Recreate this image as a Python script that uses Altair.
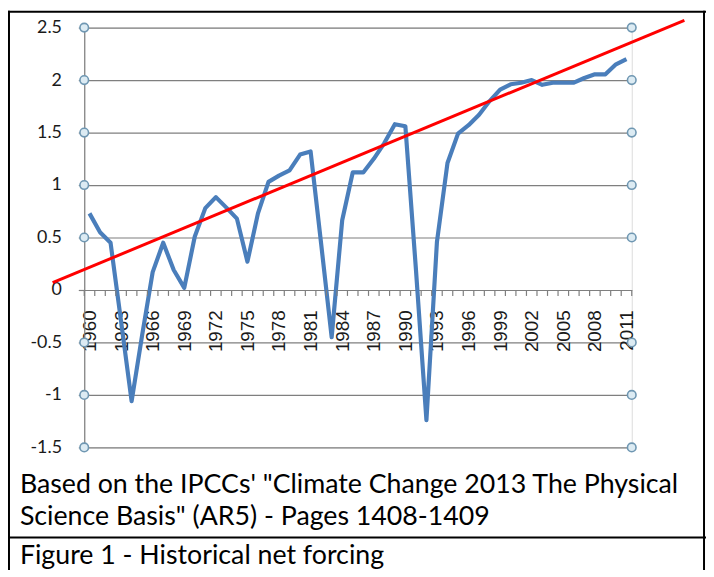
import altair as alt
import pandas as pd

years = list(range(1960, 2012))
forcing = [
    0.73, 0.55, 0.45, -0.30, -1.06, -0.43, 0.17, 0.45, 0.19, 0.02,
    0.51, 0.78, 0.885, 0.785, 0.68, 0.27, 0.73, 1.03, 1.09, 1.14,
    1.29, 1.32, 0.44, -0.45, 0.665, 1.12, 1.12, 1.25, 1.40, 1.58,
    1.56, 0.20, -1.24, 0.46, 1.21, 1.49, 1.57, 1.67, 1.80, 1.91,
    1.96, 1.975, 2.00, 1.955, 1.975, 1.975, 1.975, 2.02, 2.055, 2.055,
    2.15, 2.20,
]
trend_years = [1956.5, 2016.5]
trend_vals = [0.07, 2.57]
y_ticks = [-1.5, -1, -0.5, 0, 0.5, 1, 1.5, 2, 2.5]
label_years = list(range(1960, 2012, 3))
marker_levels = [-1.5, -1, -0.5, 0.5, 1, 1.5, 2, 2.5]
x_domain = [1959.5, 2011.5]
tick_bounds = [y - 0.5 for y in years] + [2011.5]
caption_lines = ['Based on the IPCCs\' "Climate Change 2013 The Physical',
                 'Science Basis" (AR5) - Pages 1408-1409']
figure_caption = "Figure 1 - Historical net forcing"

GRAY = "#7f7f7f"
x_scale = alt.Scale(domain=x_domain, nice=False, zero=False)
y_scale = alt.Scale(domain=[-1.5, 2.5], nice=False, zero=False)

df = pd.DataFrame({"year": years, "forcing": forcing})
trend_df = pd.DataFrame({"year": trend_years, "val": trend_vals})
tick_df = pd.DataFrame({"b": tick_bounds})
marker_df = pd.DataFrame([{"x": xe, "y": lv} for xe in x_domain for lv in marker_levels])
one = pd.DataFrame({"t": [figure_caption]})

line = alt.Chart(df).mark_line(color="#4a7ebb", strokeWidth=4.2, strokeJoin="round").encode(
    x=alt.X("year:Q", scale=x_scale,
            axis=alt.Axis(values=label_years, labelAngle=-90, offset=-159, domain=False,
                          ticks=False, tickSize=0, grid=False, labelPadding=20,
                          labelFont="Liberation Sans", labelFontSize=19, labelColor="#1a1a1a",
                          labelFlush=False, labelOverlap=False, format="d", title="")),
    y=alt.Y("forcing:Q", scale=y_scale,
            axis=alt.Axis(values=y_ticks, grid=True, gridColor=GRAY, gridOpacity=1,
                          gridWidth=1.2, domain=True, domainColor=GRAY, domainWidth=1.2,
                          ticks=True, tickColor=GRAY, tickSize=6, tickWidth=1.2,
                          labelPadding=17, labelFont="Lato", labelFontSize=18,
                          labelColor="#1a1a1a", labelExpr="'' + datum.value", title="")),
)

ticks = alt.Chart(tick_df).mark_rule(color=GRAY, strokeWidth=1.2, y2Offset=6).encode(
    x=alt.X("b:Q", scale=x_scale, axis=None),
    y=alt.YDatum(0, axis=None),
    y2=alt.Y2Datum(0),
)

markers = alt.Chart(marker_df).mark_point(
    shape="circle", size=75, filled=True, fill="#dcebf3", stroke="#6f97b2",
    strokeWidth=1.6, opacity=1,
).encode(
    x=alt.X("x:Q", scale=x_scale, axis=None),
    y=alt.Y("y:Q", scale=y_scale, axis=None),
)

trend = alt.Chart(trend_df).mark_line(color="#ff0000", strokeWidth=3).encode(
    x=alt.X("year:Q", scale=x_scale, axis=None),
    y=alt.Y("val:Q", scale=y_scale, axis=None),
)

cap = alt.Chart(one).mark_text(align="left", baseline="alphabetic", font="Lato",
                               fontSize=27, color="black", lineHeight=32).encode(
    x=alt.value(-65), y=alt.value(470), text=alt.value(caption_lines))
fig = alt.Chart(one).mark_text(align="left", baseline="alphabetic", font="Lato",
                               fontSize=27, color="black").encode(
    x=alt.value(-65), y=alt.value(542), text="t:N")

def frame(x1, x2, y1, y2):
    return alt.Chart(one).mark_rule(color="black", strokeWidth=2).encode(
        x=alt.value(x1), x2=alt.value(x2), y=alt.value(y1), y2=alt.value(y2))

borders = [frame(-77, 628, -16, -16), frame(-76, -76, -17, 560),
           frame(626, 626, -17, 560), frame(-77, 628, 515, 515)]

chart = alt.layer(line, ticks, trend, markers, cap, fig, *borders).resolve_axis(
    x="independent", y="independent"
).properties(
    width=553, height=424,
    padding={"left": 77, "top": 17, "right": 75, "bottom": 121},
    autosize=alt.AutoSizeParams(type="none"),
).configure_view(strokeWidth=0).configure(background="white")

chart.save("out.html", embed_options={"renderer": "svg", "actions": False})
